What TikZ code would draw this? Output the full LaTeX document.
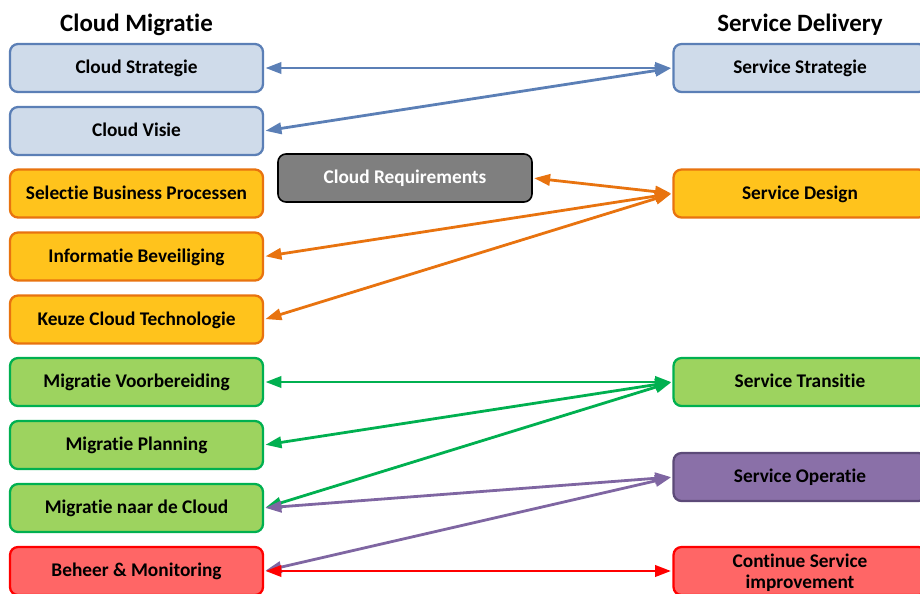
\documentclass[tikz,border=0pt]{standalone}
\usepackage{fontspec}
\setmainfont{Carlito}[Ligatures={CommonOff}, RawFeature={-liga;-clig;-dlig;-calt}]
\usetikzlibrary{arrows.meta}
\newcommand\nolig{\kern0pt}
\definecolor{bluebd}{HTML}{5B7FB6}
\definecolor{bluefill}{HTML}{CFDBEA}
\definecolor{orangebd}{HTML}{E8730F}
\definecolor{orangefill}{HTML}{FFC31C}
\definecolor{greenbd}{HTML}{00B050}
\definecolor{greenfill}{HTML}{9DD35F}
\definecolor{purplebd}{HTML}{5C4A78}
\definecolor{purplefill}{HTML}{8A70A8}
\definecolor{purpleln}{HTML}{7F66A2}
\definecolor{redbd}{HTML}{FF0000}
\definecolor{redfill}{HTML}{FF6666}
\definecolor{grayfill}{HTML}{7F7F7F}
\tikzset{
  box/.style={rectangle, rounded corners=6pt, line width=1.7pt, minimum width=189.75pt, minimum height=36pt, inner sep=0pt, align=center, text height=10.5pt, text depth=2pt, font=\fontsize{14.5}{16}\selectfont\bfseries},
  bluebox/.style={box, draw=bluebd, fill=bluefill},
  orangebox/.style={box, draw=orangebd, fill=orangefill},
  greenbox/.style={box, draw=greenbd, fill=greenfill},
  purplebox/.style={box, draw=purplebd, fill=purplefill},
  redbox/.style={box, draw=redbd, fill=redfill},
  graybox/.style={box, draw=black, fill=grayfill, text=white, line width=1.2pt},
  title/.style={font=\fontsize{18.7}{22}\selectfont\bfseries, inner sep=0pt},
  conn/.style={line width=2.1pt, {Triangle[length=12pt,width=8.5pt]}-{Triangle[length=12pt,width=8.5pt]}, shorten <=1pt, shorten >=1pt},
}
\begin{document}
\begin{tikzpicture}[x=0.75pt,y=-0.75pt]
\useasboundingbox (0,0) rectangle (920,593);
\clip (0,0) rectangle (920,593);
% titles
\node[title] (t1) at (136.5,25) {Cloud Migrat\nolig ie};
\node[title] (t2) at (800,25) {Service Delivery};
% left column
\node[bluebox] (cs) at (136.5,68) {Cloud Strategie};
\node[bluebox] (cv) at (136.5,131) {Cloud Visie};
\node[orangebox] (sb) at (136.5,193.5) {Select\nolig ie Business Processen};
\node[orangebox] (ib) at (136.5,256.5) {Informat\nolig ie Beveiliging};
\node[orangebox] (kc) at (136.5,319.5) {Keuze Cloud Technologie};
\node[greenbox] (mv) at (136.5,382) {Migrat\nolig ie Voorbereiding};
\node[greenbox] (mp) at (136.5,445) {Migrat\nolig ie Planning};
\node[greenbox] (mc) at (136.5,508) {Migrat\nolig ie naar de Cloud};
\node[redbox] (bm) at (136.5,571) {Beheer \& Monitoring};
% middle
\node[graybox, minimum width=190.5pt] (cr) at (405,178) {Cloud Requirements};
% right column
\node[bluebox] (ss) at (800,68) {Service Strategie};
\node[orangebox] (sd) at (800,193.5) {Service Design};
\node[greenbox] (st) at (800,382) {Service Transit\nolig ie};
\node[purplebox] (so) at (800,477) {Service Operat\nolig ie};
\node[redbox, text height={}, text depth=0pt] (csi) at (800,571) {Continue Service\\improvement};
% connectors
\draw[conn, draw=bluebd] (cs.east) -- (ss.west);
\draw[conn, draw=bluebd] (cv.east) -- (ss.west);
\draw[conn, draw=orangebd] (cr.east) -- (sd.west);
\draw[conn, draw=orangebd] (ib.east) -- (sd.west);
\draw[conn, draw=orangebd] (kc.east) -- (sd.west);
\draw[conn, draw=greenbd] (mv.east) -- (st.west);
\draw[conn, draw=greenbd] (mp.east) -- (st.west);
\draw[conn, draw=greenbd] (mc.east) -- (st.west);
\draw[conn, draw=purpleln] (mc.east) -- (so.west);
\draw[conn, draw=purpleln] (bm.east) -- (so.west);
\draw[conn, draw=redbd] (bm.east) -- (csi.west);
\end{tikzpicture}
\end{document}
